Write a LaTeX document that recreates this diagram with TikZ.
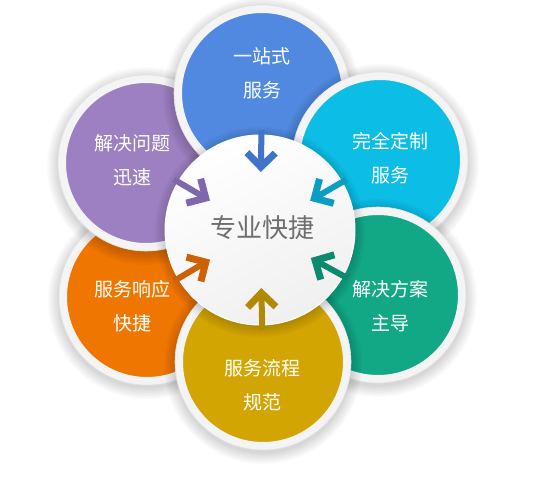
\documentclass[tikz,border=0pt]{standalone}
\usepackage{fontspec}
\newfontfamily\cjk{Noto Sans CJK SC}
\usetikzlibrary{calc}
\definecolor{blueC}{HTML}{5089DF}
\definecolor{blueA}{HTML}{3F74CA}
\definecolor{cyanC}{HTML}{0CBDE5}
\definecolor{cyanA}{HTML}{0A9EC3}
\definecolor{greenC}{HTML}{12A785}
\definecolor{greenA}{HTML}{0C8A6E}
\definecolor{yellowC}{HTML}{D3A502}
\definecolor{yellowA}{HTML}{B08905}
\definecolor{orangeC}{HTML}{EF7601}
\definecolor{orangeA}{HTML}{CC6205}
\definecolor{purpleC}{HTML}{9C80C1}
\definecolor{purpleA}{HTML}{8067AD}
\definecolor{rimC}{HTML}{F4F4F4}
\definecolor{rimEdge}{HTML}{E2E2E2}
\definecolor{centerText}{HTML}{6E6E6E}
\tikzset{
  petal/.style={circle, inner sep=0pt, minimum size=168pt, draw=rimC, line width=8pt},
  rimline/.style={draw=rimEdge, line width=0.6pt},
  softshadow/.style={fill=black, opacity=0.02},
  centerdisc/.style={circle, inner sep=0pt, minimum size=190pt, shading=axis,
    top color=white, bottom color=black!6, shading angle=25, draw=white, line width=1pt},
  arrowshaft/.style={line width=6pt},
  arrowhd/.style={line width=7pt, line join=miter},
  petaltext/.style={text=white, align=center, font=\cjk\fontsize{19}{34}\selectfont},
  centertext/.style={text=centerText, font=\cjk\fontsize{26}{30}\selectfont}
}
\newcommand\mypetal[4]{%
  \foreach \k in {1,...,8} {\fill[softshadow] (#2,#3+3) circle (87+1.5*\k);}
  \node[petal, fill=#4] (#1) at (#2,#3) {};
  \draw[rimline] (#1.center) circle (88);
}
\newcommand\myarrow[2]{%
  \coordinate (t#1) at ($(c)!100pt!(#1)$);
  \coordinate (h#1) at ($(c)!63pt!(#1)$);
  \draw[arrowshaft, #2] (t#1) -- (h#1);
  \draw[arrowhd, #2] ($(h#1)!20pt!45:(t#1)$) -- (h#1) -- ($(h#1)!20pt!-45:(t#1)$);
}
\begin{document}
\begin{tikzpicture}[x=1pt,y=-1pt]
\fill[white] (0,0) rectangle (544,477);
\useasboundingbox (0,0) rectangle (544,477);
% petals, drawn bottom to top
\mypetal{orange}{147}{297}{orangeC}
\mypetal{purple}{146}{163}{purpleC}
\mypetal{blue}{262}{93}{blueC}
\mypetal{cyan}{380}{160}{cyanC}
\mypetal{green}{378}{295}{greenC}
\mypetal{yellow}{263}{362}{yellowC}
% centre disc
\foreach \k in {1,...,8} {\fill[softshadow] (260,232) circle (94+1.4*\k);}
\node[centerdisc] (c) at (260,230) {};
% arrows
\myarrow{blue}{blueA}
\myarrow{cyan}{cyanA}
\myarrow{green}{greenA}
\myarrow{yellow}{yellowA}
\myarrow{orange}{orangeA}
\myarrow{purple}{purpleA}
% texts
\node[centertext] (lc) at (262,228) {专业快捷};
\node[petaltext] (lblue) at (262,73) {一站式\\服务};
\node[petaltext] (lcyan) at (390,158) {完全定制\\服务};
\node[petaltext] (lgreen) at (390,306) {解决方案\\主导};
\node[petaltext] (lyellow) at (262,385) {服务流程\\规范};
\node[petaltext] (lorange) at (132,306) {服务响应\\快捷};
\node[petaltext] (lpurple) at (132,160) {解决问题\\迅速};
\end{tikzpicture}
\end{document}
